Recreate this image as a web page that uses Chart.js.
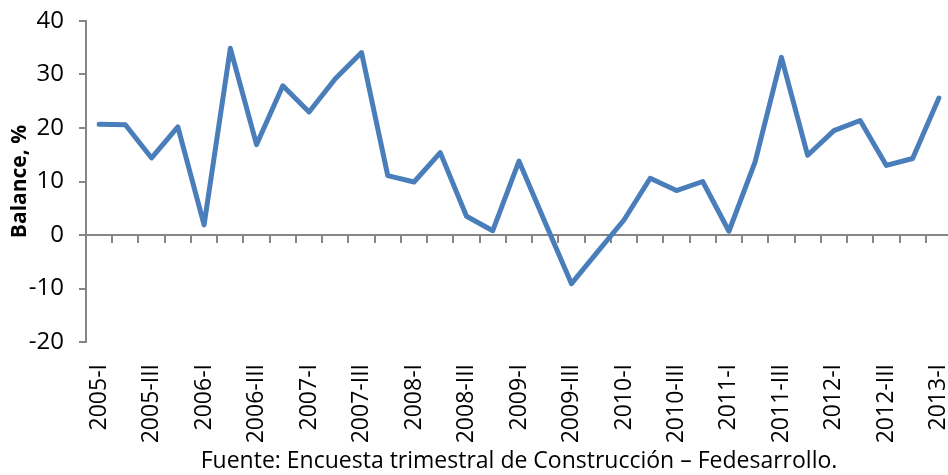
<!DOCTYPE html>
<html>
<head>
<meta charset="utf-8">
<script src="https://cdn.jsdelivr.net/npm/chart.js@4/dist/chart.umd.min.js"></script>
<style>
  html, body { margin: 0; padding: 0; background: #fff; overflow: hidden; }
  .wrap { width: 960px; height: 475px; }
</style>
</head>
<body>
<div class="wrap"><canvas id="balance"></canvas></div>
<script>
// trimestres 2005-I ... 2013-I
const quarters = [
  '2005-I', '2005-II', '2005-III', '2005-IV',
  '2006-I', '2006-II', '2006-III', '2006-IV',
  '2007-I', '2007-II', '2007-III', '2007-IV',
  '2008-I', '2008-II', '2008-III', '2008-IV',
  '2009-I', '2009-II', '2009-III', '2009-IV',
  '2010-I', '2010-II', '2010-III', '2010-IV',
  '2011-I', '2011-II', '2011-III', '2011-IV',
  '2012-I', '2012-II', '2012-III', '2012-IV',
  '2013-I'
];

// balance, %
const balance = [
  20.7, 20.6, 14.4, 20.2,
  1.9, 34.9, 16.9, 27.9,
  23.0, 29.2, 34.1, 11.1,
  9.9, 15.4, 3.5, 0.8,
  13.8, 2.3, -9.1, -3.1,
  2.8, 10.6, 8.3, 10.0,
  0.7, 13.7, 33.2, 14.9,
  19.5, 21.4, 13.0, 14.3,
  25.6
];

const yTicks = [-20, -10, 0, 10, 20, 30, 40];

const yTitle = 'Balance, %';
const source = 'Fuente: Encuesta trimestral de Construcción – Fedesarrollo.';

const axisGray = '#868686';
const fontName = "'Open Sans', sans-serif";

const ctx = document.getElementById('balance').getContext('2d');

const chart = new Chart(ctx, {
  type: 'line',
  data: {
    labels: quarters,
    datasets: [{
      data: balance,
      borderColor: '#4A7EBB',
      borderWidth: 5,
      borderJoinStyle: 'round',
      borderCapStyle: 'round',
      pointRadius: 0,
      tension: 0,
      fill: false
    }]
  },
  options: {
    responsive: true,
    maintainAspectRatio: false,
    animation: false,
    layout: { padding: { top: 21, right: 8, left: 0, bottom: 0 } },
    plugins: {
      legend: { display: false },
      tooltip: { enabled: false }
    },
    scales: {
      x: {
        position: 'bottom',
        offset: true,
        border: { display: false },
        grid: { display: false, drawTicks: false },
        ticks: {
          autoSkip: false,
          minRotation: 90,
          maxRotation: 90,
          padding: 22,
          color: '#000',
          font: { family: fontName, size: 23 },
          // solo trimestres I y III
          callback: function(v, i) { return i % 2 === 0 ? quarters[i] : ''; }
        },
        title: {
          display: true,
          text: source,
          color: '#000',
          font: { family: fontName, size: 23 },
          padding: { top: 0, bottom: 0 }
        },
        afterFit: function(scale) {
          scale.height = 133;
          scale.paddingLeft = 0;
          scale.paddingRight = 0;
        }
      },
      // eje en cero con sus marcas
      xZero: {
        type: 'category',
        position: { y: 0 },
        offset: true,
        border: { display: true, color: axisGray, width: 2 },
        grid: { drawOnChartArea: false, offset: true, tickLength: 7, color: axisGray, lineWidth: 2 },
        ticks: { display: false }
      },
      y: {
        min: -20,
        max: 40,
        afterBuildTicks: function(scale) { scale.ticks = yTicks.map(v => ({ value: v })); },
        border: { color: axisGray, width: 2 },
        grid: { drawOnChartArea: false, tickLength: 7, color: axisGray, lineWidth: 2 },
        ticks: {
          padding: 15,
          color: '#000',
          font: { family: fontName, size: 24 }
        },
        title: {
          display: true,
          text: yTitle,
          color: '#000',
          font: { family: fontName, size: 21, weight: 'bold' },
          padding: { top: 7, bottom: 0 }
        },
        afterFit: function(scale) {
          scale.width = 86;
          scale.paddingTop = 0;
          scale.paddingBottom = 0;
        }
      }
    }
  }
});
</script>
</body>
</html>
